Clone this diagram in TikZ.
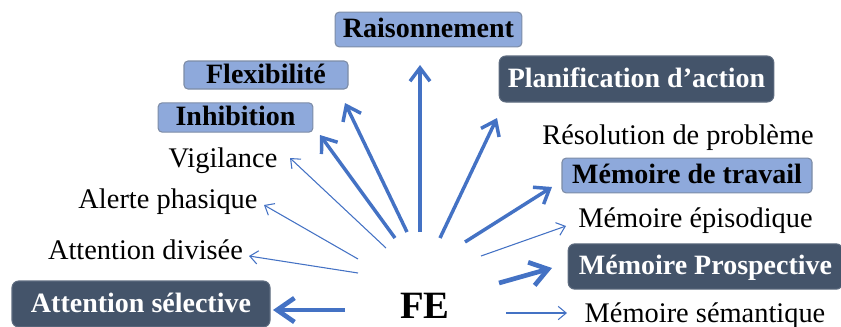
\documentclass[tikz,border=0pt]{standalone}
\usepackage{fontspec}
\setmainfont{Liberation Serif}
\usetikzlibrary{arrows.meta}

\definecolor{bleu}{HTML}{4472C4}
\definecolor{bleuclair}{HTML}{8EA9DB}
\definecolor{bordclair}{HTML}{7D8CA6}
\definecolor{bleufonce}{HTML}{44546A}
\definecolor{bordfonce}{HTML}{5E6C80}

\begin{document}
\begin{tikzpicture}[x=0.75pt, y=-0.75pt,
    every node/.style={font=\fontsize{21.3}{24}\selectfont, text height=15pt, text depth=3pt, inner sep=0pt},
    clair/.style={draw=bordclair, fill=bleuclair, rounded corners=3pt, line width=0.8pt, font=\fontsize{21}{24}\selectfont\bfseries},
    fonce/.style={draw=bordfonce, fill=bleufonce, rounded corners=5pt, line width=0.8pt, text=white, font=\fontsize{21}{24}\selectfont\bfseries},
    fin/.style={-{Straight Barb[length=6pt,width=10pt]}, line width=0.8pt, bleu},
    epais/.style={-{Straight Barb[length=10pt,width=15pt]}, line width=2.6pt, bleu},
    lourd/.style={-{Straight Barb[length=13pt,width=18pt]}, line width=3.5pt, bleu}]
    \useasboundingbox (0,0) rectangle (841,326);

    % Centre
    \node[font=\fontsize{29}{32}\selectfont\bfseries, text height=20pt] (fe) at (425,307) {FE};

    % Fonctions a gauche
    \node[fonce, minimum width=193.5pt, minimum height=34.5pt] (select) at (141,304) {Attention sélective};
    \node (divis) at (145.5,251) {Attention divisée};
    \node (alerte) at (168,200) {Alerte phasique};
    \node (vigil) at (223,159) {Vigilance};
    \node[clair, minimum width=116pt, minimum height=22pt] (inhib) at (235.5,117.5) {Inhibition};
    \node[clair, minimum width=123pt, minimum height=21pt] (flex) at (266,75) {Flexibilité};
    \node[clair, minimum width=140pt, minimum height=26pt] (rais) at (428.5,29.5) {Raisonnement};

    % Fonctions a droite
    \node[fonce, minimum width=206pt, minimum height=34.5pt] (planif) at (636.5,79) {Planification d’action};
    \node (resol) at (678,136) {Résolution de problème};
    \node[clair, minimum width=187.5pt, minimum height=26pt] (travail) at (687,175.5) {Mémoire de travail};
    \node (episod) at (695.5,219) {Mémoire épisodique};
    \node[fonce, minimum width=206pt, minimum height=34pt] (prosp) at (705.5,266.5) {Mémoire Prospective};
    \node (seman) at (705,314) {Mémoire sémantique};

    % Extremites des fleches
    \coordinate (d1) at (345,310);  \coordinate (a1) at (273,310);
    \coordinate (d2) at (358,273);  \coordinate (a2) at (249,256);
    \coordinate (d3) at (358,259);  \coordinate (a3) at (264,205);
    \coordinate (d4) at (386,248);  \coordinate (a4) at (290,158);
    \coordinate (d5) at (395,238);  \coordinate (a5) at (320,135);
    \coordinate (d6) at (407,232);  \coordinate (a6) at (345,103);
    \coordinate (d7) at (420,232);  \coordinate (a7) at (420,65);
    \coordinate (d8) at (440,238);  \coordinate (a8) at (497,118);
    \coordinate (d9) at (465,242);  \coordinate (a9) at (552,187);
    \coordinate (d10) at (481,256); \coordinate (a10) at (566,226);
    \coordinate (d11) at (499,283); \coordinate (a11) at (552,268);
    \coordinate (d12) at (506,313); \coordinate (a12) at (567,313);

    % Fleches
    \draw[lourd] (d1) -- (a1);
    \draw[fin] (d2) -- (a2);
    \draw[fin] (d3) -- (a3);
    \draw[fin] (d4) -- (a4);
    \draw[epais] (d5) -- (a5);
    \draw[epais] (d6) -- (a6);
    \draw[epais] (d7) -- (a7);
    \draw[epais] (d8) -- (a8);
    \draw[epais] (d9) -- (a9);
    \draw[fin] (d10) -- (a10);
    \draw[lourd] (d11) -- (a11);
    \draw[fin] (d12) -- (a12);
\end{tikzpicture}
\end{document}
